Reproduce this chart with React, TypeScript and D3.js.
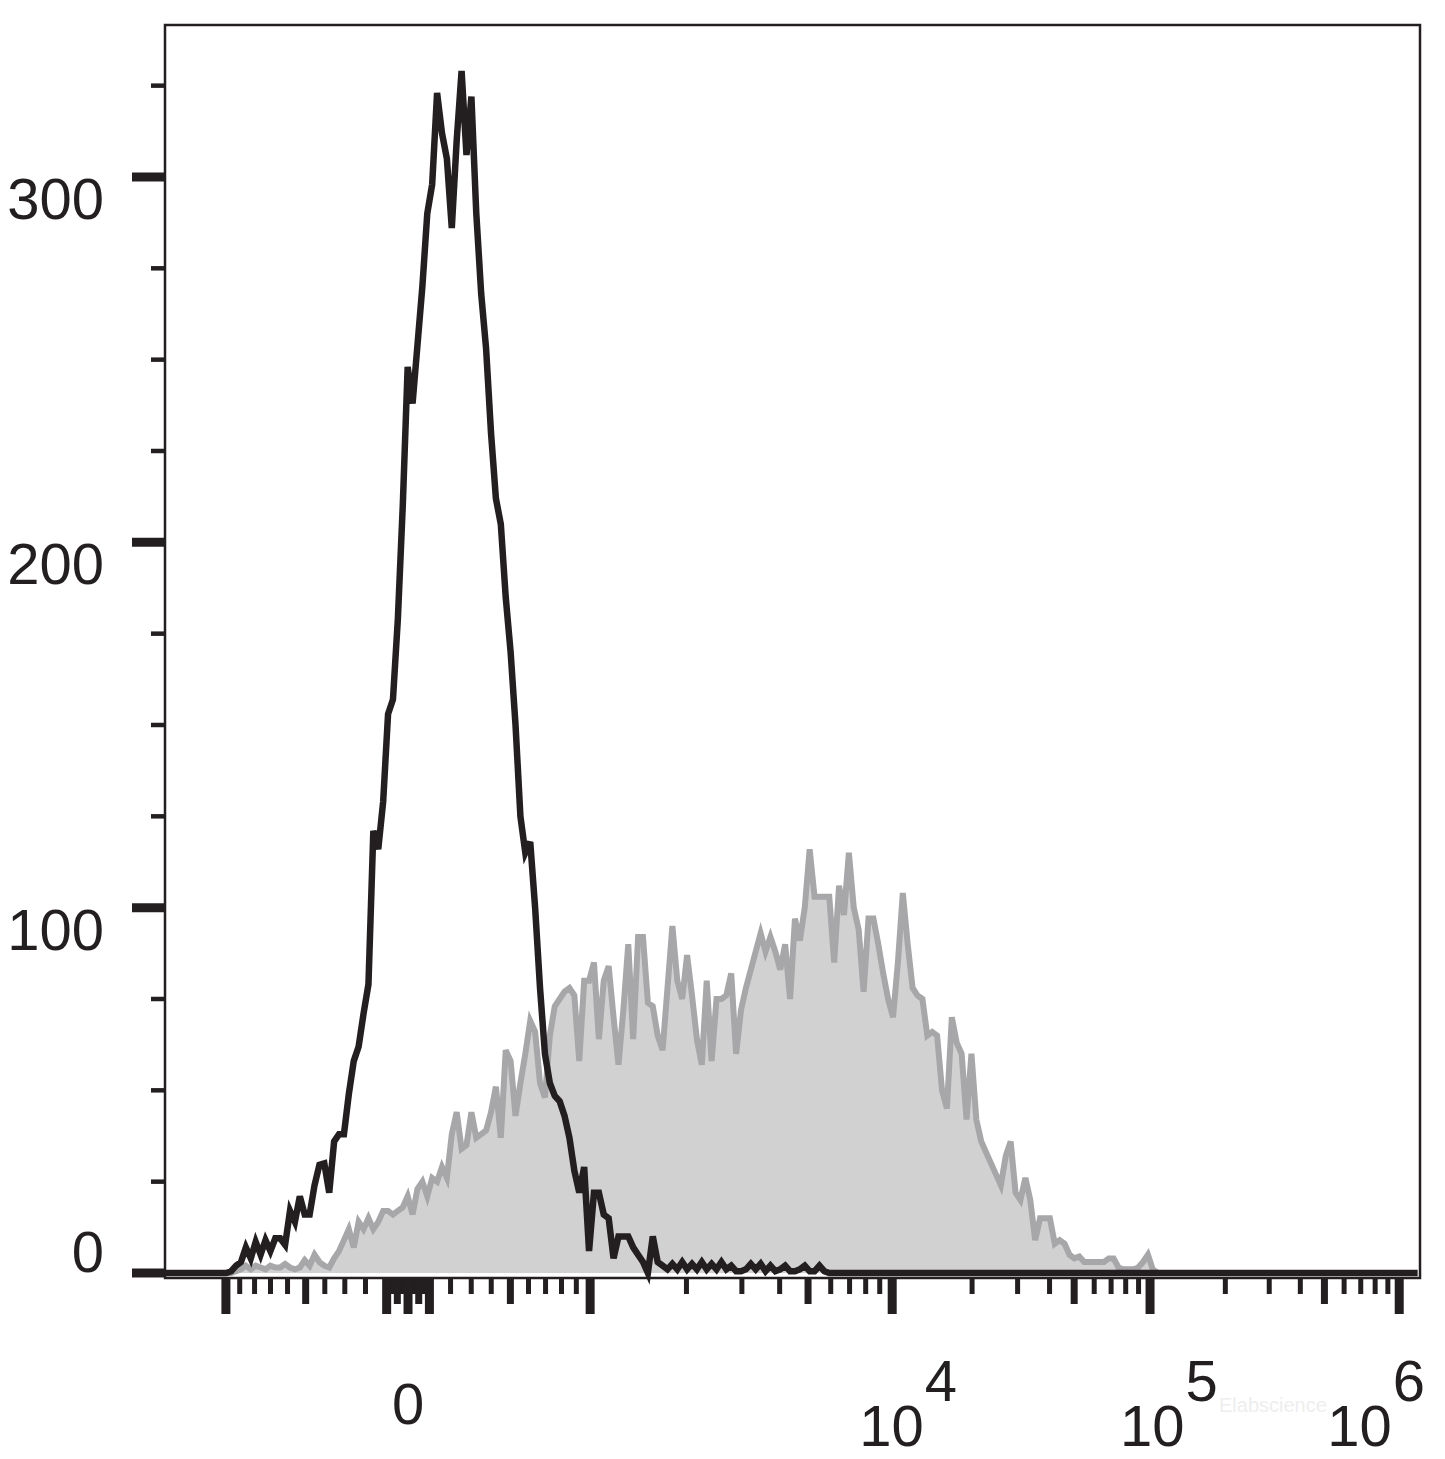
import React from 'react';
import * as d3 from 'd3';

// ---------- data ----------
const CHANNELS = 256;
// logicle display transform parameters (value <-> display units)
const LOGICLE_K = 100.6;
const LOGICLE_P = 4;
const X_MIN = -1554;
const X_MAX = 1212500;
const Y_MAX = 341.6;

// unstained control (black line), counts per channel starting at channel unstainedStart
const unstainedStart = 12;
const unstainedCounts = [
  0, 0.5, 2, 3, 7, 4, 8.5, 5, 9, 6, 9.5, 9.5, 7.7, 17, 14, 21, 16, 16, 24, 29.6,
  30, 22, 36, 38, 38, 49, 58, 62, 71, 79, 121, 116, 129, 153, 157, 179, 210, 248, 238, 254,
  270, 290, 298, 323, 312, 305, 286, 310, 329, 306, 322, 290, 268, 253, 230, 212, 205, 185, 170, 150,
  125, 115, 118, 100, 78, 60, 52, 48.5, 47, 43, 37, 28, 22, 29, 6, 22, 22, 16, 15, 4,
  10, 10, 10, 7, 5, 3, 0, 10, 3, 2, 1, 2.5, 1, 3, 1, 2.5, 1, 3, 1, 2.5,
  1, 3, 1, 2, 0.5, 0.5, 1, 2.5, 1, 2.5, 0.5, 2, 0.5, 1, 2, 0.5, 0.5, 1, 2, 0.5,
  0.5, 2, 0.5, 0
];

// stained sample (grey filled), counts per channel starting at channel stainedStart
const stainedStart = 14;
const stainedCounts = [
  0.5, 1, 2, 1, 2, 1.5, 1, 2, 1.5, 1.5, 2.5, 1.5, 1, 1.5, 3.5, 2, 5, 3, 2, 1.5,
  4, 6, 9, 12, 7, 14, 12, 15, 12, 14, 17, 17, 16, 17, 18, 21, 16, 23, 25, 21,
  26, 25, 29, 26, 38, 44, 34, 35, 44, 37, 38, 39, 44, 51, 37, 61, 58, 43, 52, 60,
  69, 66, 52, 48, 65, 73, 75, 77, 78, 76, 58, 80, 80, 85, 64, 80, 84, 70, 57, 72,
  90, 64, 92, 92, 74, 73, 65, 61, 78, 95, 80, 75, 87, 76, 64, 57, 80, 58, 75, 75,
  76, 82, 60, 72, 78, 83, 88, 93, 88, 92, 88, 83, 90, 75, 97, 91, 100, 116, 103, 103,
  103, 103, 85, 106, 98, 115, 100, 94, 77, 97, 97, 90, 82, 75, 70, 85, 104, 90, 78, 76,
  75, 65, 66, 65, 50, 45, 70, 63, 60, 42, 60, 42, 36, 33, 30, 27, 24, 32, 36, 22,
  20, 26, 20, 9, 15, 15, 15, 8, 9, 8, 5, 4, 4.5, 3, 3, 3, 3, 3, 4, 4,
  1.5, 1, 1, 1, 1.5, 3, 5, 1, 0
];

const yMajorTicks = [0, 100, 200, 300];
const yMinorTicks = [25, 50, 75, 125, 150, 175, 225, 250, 275, 325];
const yTickLabels = ['0', '100', '200', '300'];

const xMajorTicks = [-1000, -100, 0, 100, 1000, 10000, 100000, 1000000];
const xMediumTicks = [-500, -50, 50, 500, 5000, 50000, 500000];
const xMinorMultipliers = [2, 3, 4, 6, 7, 8, 9];
const xMinorDecades = [-100, -10, 10, 100, 1000, 10000, 100000];

const xLabelValues = [0, 10000, 100000, 1000000];
const xLabelBases = ['0', '10', '10', '10'];
const xLabelExponents = ['', '4', '5', '6'];

// ---------- layout / style ----------
const W = 1445;
const H = 1459;
const plot = { left: 165, right: 1420, top: 25, bottom: 1278 };
const yZeroPx = 1273;
const INK = '#231f20';
const FONT = '"Liberation Sans", Arial, Helvetica, sans-serif';
const xLabelDx = [0, -33, -30, -72];

function logicleForward(u: number) {
  const a = Math.abs(u);
  const p = LOGICLE_P;
  const s = LOGICLE_K * (Math.exp(a) - 1 + p * p * (1 - Math.exp(-a / p)));
  return u < 0 ? -s : s;
}
function logicleInverse(v: number) {
  let lo = -30, hi = 30;
  for (let i = 0; i < 100; i++) {
    const mid = (lo + hi) / 2;
    if (logicleForward(mid) < v) lo = mid; else hi = mid;
  }
  return (lo + hi) / 2;
}

function pad(start: number, counts: number[]) {
  const out = new Array(CHANNELS).fill(0);
  counts.forEach((c, i) => { if (start + i < CHANNELS) out[start + i] = c; });
  return out;
}

export default function App() {
  const uMin = logicleInverse(X_MIN);
  const uMax = logicleInverse(X_MAX);
  const x = d3.scaleLinear().domain([uMin, uMax]).range([plot.left, plot.right]);
  const ch = d3.scaleLinear().domain([0, CHANNELS]).range([plot.left, plot.right]);
  const y = d3.scaleLinear().domain([0, Y_MAX]).range([yZeroPx, plot.top]);
  const xv = (v: number) => x(logicleInverse(v));

  const toPts = (arr: number[]) => {
    const pts: [number, number][] = [[ch(0), y(0)]];
    arr.forEach((v, i) => pts.push([ch(i + 0.5), y(v)]));
    pts.push([ch(CHANNELS) - 3, y(0)]);
    return pts;
  };
  const black = toPts(pad(unstainedStart, unstainedCounts));
  const grey = toPts(pad(stainedStart, stainedCounts));

  const line = d3.line<[number, number]>().x(d => d[0]).y(d => d[1]);
  const area = d3.area<[number, number]>().x(d => d[0]).y0(y(0)).y1(d => d[1]);

  const minorX: number[] = [];
  xMinorDecades.forEach(dec => xMinorMultipliers.forEach(m => minorX.push(dec * m)));

  const tickTop = plot.bottom + 1;

  return (
    <svg width={W} height={H} style={{ position: 'absolute', left: 0, top: 0, background: '#fff' }}
      fontFamily={FONT}>
      <rect x={0} y={0} width={W} height={H} fill="#fff" />
      {/* frame */}
      <rect x={plot.left} y={plot.top} width={plot.right - plot.left} height={plot.bottom - plot.top}
        fill="none" stroke={INK} strokeWidth={2.5} />
      {/* grey histogram */}
      <path d={area(grey) || ''} fill="#d1d1d1" stroke="none" />
      <path d={line(grey) || ''} fill="none" stroke="#a7a7aa" strokeWidth={6} strokeLinejoin="miter" strokeMiterlimit={4} />
      {/* black histogram */}
      <path d={line(black) || ''} fill="none" stroke={INK} strokeWidth={6.5} strokeLinejoin="miter" strokeMiterlimit={4} />

      {/* y ticks */}
      {yMajorTicks.map(t => (
        <line key={'ym' + t} x1={132} x2={plot.left} y1={y(t)} y2={y(t)} stroke={INK} strokeWidth={9} />
      ))}
      {yMinorTicks.map(t => (
        <line key={'yn' + t} x1={151} x2={plot.left} y1={y(t)} y2={y(t)} stroke={INK} strokeWidth={4.5} />
      ))}
      {yMajorTicks.map((t, i) => (
        <text key={'yl' + t} x={104} y={t === 0 ? y(t) - 1 : y(t) + 42} textAnchor="end"
          fontSize={58} fill={INK}>{yTickLabels[i]}</text>
      ))}

      {/* x ticks */}
      {minorX.map(v => (
        <line key={'xn' + v} x1={xv(v)} x2={xv(v)} y1={tickTop} y2={1294} stroke={INK} strokeWidth={5} />
      ))}
      {xMediumTicks.map(v => (
        <line key={'xd' + v} x1={xv(v)} x2={xv(v)} y1={tickTop} y2={1304} stroke={INK} strokeWidth={7} />
      ))}
      {xMajorTicks.map(v => (
        <line key={'xm' + v} x1={xv(v)} x2={xv(v)} y1={tickTop} y2={1314} stroke={INK} strokeWidth={9} />
      ))}

      {/* watermark */}
      <text x={1219} y={1412} fontSize={20} fill="#eeeeee">Elabscience</text>

      {/* x labels */}
      {xLabelValues.map((v, i) => (
        xLabelExponents[i] === '' ? (
          <text key={'xl' + v} x={xv(v) + xLabelDx[i]} y={1424} textAnchor="middle" fontSize={58} fill={INK}>
            {xLabelBases[i]}
          </text>
        ) : (
          <text key={'xl' + v} x={xv(v) + xLabelDx[i]} y={1446} textAnchor="start" fontSize={58} fill={INK}>
            {xLabelBases[i]}
            <tspan dx={1} dy={-45}>{xLabelExponents[i]}</tspan>
          </text>
        )
      ))}
    </svg>
  );
}
